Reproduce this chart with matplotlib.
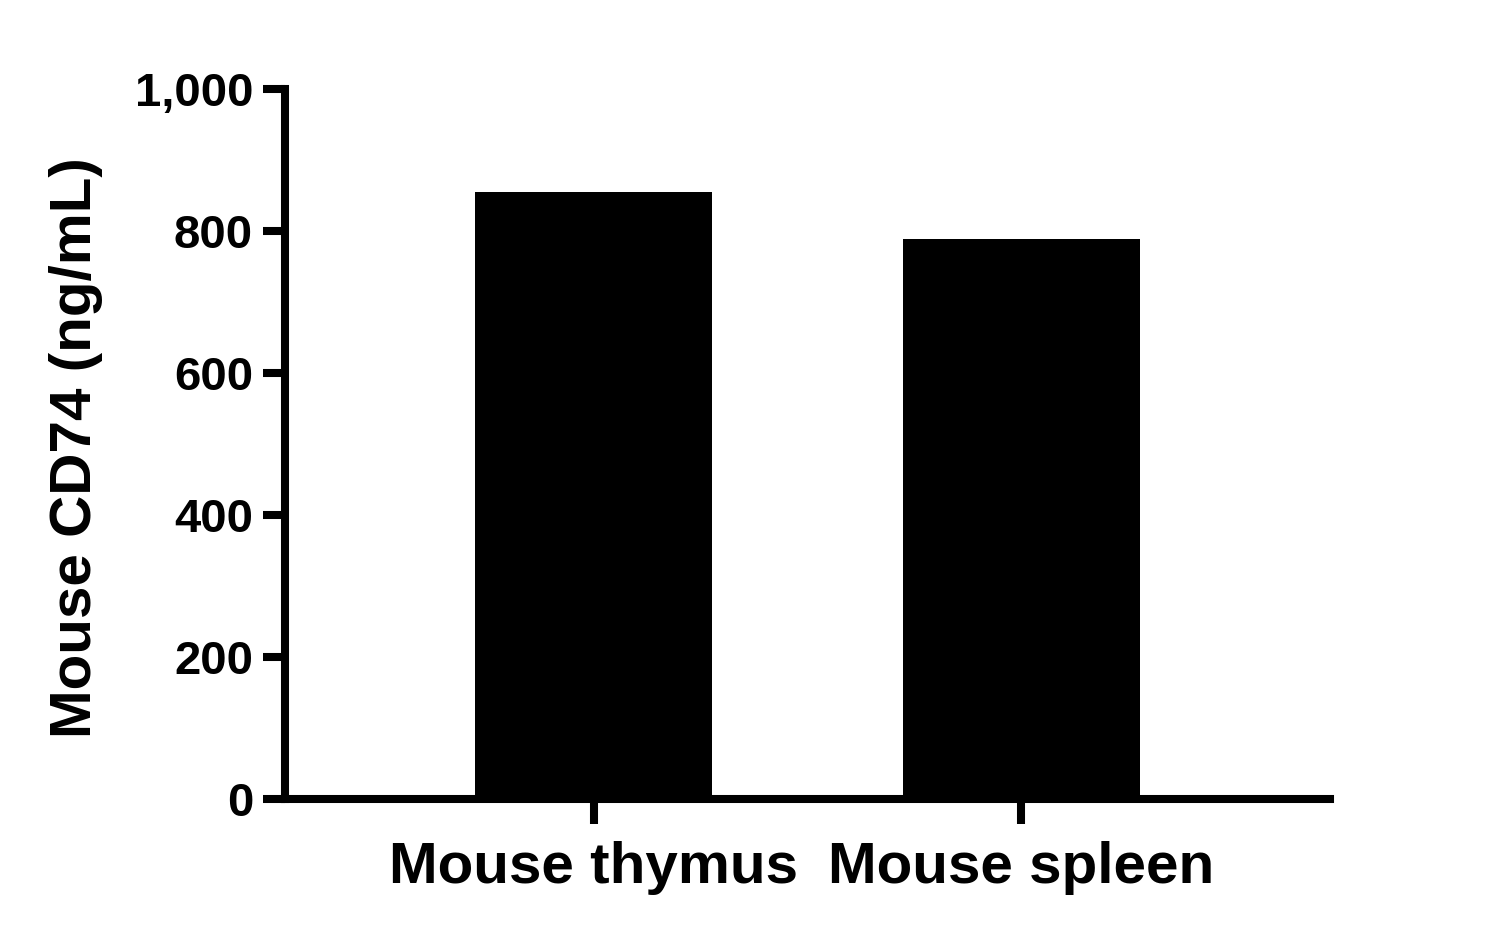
import matplotlib
matplotlib.use("Agg")
import matplotlib.pyplot as plt

categories = ["Mouse thymus", "Mouse spleen"]
values = [855, 789]
y_ticks = [0, 200, 400, 600, 800, 1000]
y_tick_labels = ["0", "200", "400", "600", "800", "1,000"]

plt.rcParams['font.family'] = ['Liberation Sans', 'DejaVu Sans']
plt.rcParams['font.weight'] = 'bold'

fig = plt.figure(figsize=(15.08, 9.39), dpi=100)
ax = fig.add_axes([0.189, 0.149, 0.693, 0.756])

x = list(range(len(categories)))
ax.bar(x, values, width=0.555, color='black', zorder=1)

ax.set_xlim(-0.723, 1.723)
ax.set_ylim(0, 1000)
ax.set_yticks(y_ticks)
ax.set_yticklabels(y_tick_labels)
ax.set_xticks(x)
ax.set_xticklabels(categories)

for s in ['top', 'right']:
    ax.spines[s].set_visible(False)
for s in ['left', 'bottom']:
    ax.spines[s].set_linewidth(5.8)
    ax.spines[s].set_zorder(3)

ax.tick_params(axis='y', length=16, width=5.8, pad=7, labelsize=34)
ax.tick_params(axis='x', length=18, width=5.8, pad=12, labelsize=42)

ax.set_ylabel("Mouse CD74 (ng/mL)", fontsize=42, fontweight='bold')
ax.yaxis.set_label_coords(-0.174, 0.495)

fig.savefig("out.png", dpi=100)
